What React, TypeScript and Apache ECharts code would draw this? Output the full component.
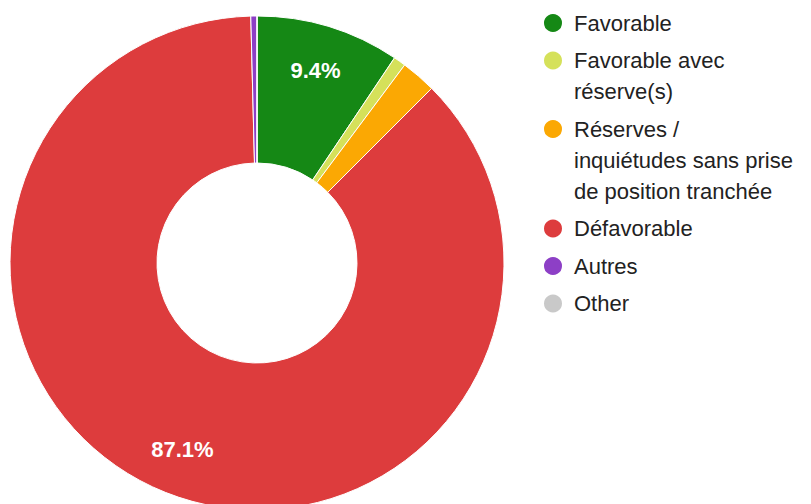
import React, { useEffect, useRef } from 'react';
import * as echarts from 'echarts';

const categories = [
  'Favorable',
  'Favorable avec réserve(s)',
  'Réserves / inquiétudes sans prise de position tranchée',
  'Défavorable',
  'Autres',
  'Other',
];
const values = [9.4, 0.8, 2.3, 87.1, 0.4, 0];
const colors = ['#158815', '#d5e15a', '#fba803', '#dd3c3d', '#8d3fc6', '#c9c9c9'];
const legendLines = [
  ['Favorable'],
  ['Favorable avec', 'réserve(s)'],
  ['Réserves /', 'inquiétudes sans prise', 'de position tranchée'],
  ['Défavorable'],
  ['Autres'],
  ['Other'],
];

const FONT = '"Liberation Sans", Arial, Helvetica, sans-serif';
const W = 811;
const H = 504;
const CX = 257;
const CY = 263;
const R_IN = 100;
const R_OUT = 247;
const LABEL_R = 201;
const LH = 31;
const GAP = 37.5;
const FIRST = 23;
const ICON = 20;

export default function App() {
  const ref = useRef<HTMLDivElement>(null);

  useEffect(() => {
    if (!ref.current) return;
    const chart = echarts.init(ref.current, null, { renderer: 'svg' });
    const total = values.reduce((a, b) => a + b, 0);
    const cum: number[] = [];
    let acc = 0;
    values.forEach((v) => {
      cum.push(acc);
      acc += v;
    });

    const centers: number[] = [];
    let c = FIRST;
    legendLines.forEach((l) => {
      centers.push(c);
      c += (l.length - 1) * LH + GAP;
    });

    const legends = categories.map((name, i) => {
      const n = legendLines[i].length;
      const text = [...Array(n - 1).fill(''), ...legendLines[i]].join('\n');
      return {
        data: [name],
        orient: 'vertical',
        left: 542,
        top: centers[i] - Math.max(ICON / 2, ((2 * n - 1) * LH) / 2),
        padding: 0,
        icon: 'circle',
        itemWidth: 32,
        itemHeight: ICON,
        selectedMode: false,
        formatter: () => text,
        textStyle: { fontFamily: FONT, fontSize: 22, lineHeight: LH, color: '#222222' },
      };
    });

    chart.setOption({
      animation: false,
      backgroundColor: '#ffffff',
      legend: legends,
      series: [
        {
          type: 'pie',
          center: [CX, CY],
          radius: [R_IN, R_OUT],
          startAngle: 90,
          clockwise: true,
          silent: true,
          avoidLabelOverlap: false,
          percentPrecision: 1,
          itemStyle: { borderColor: '#ffffff', borderWidth: 1 },
          label: {
            position: 'inside',
            color: '#ffffff',
            fontFamily: FONT,
            fontSize: 22,
            fontWeight: 'bold',
            formatter: (p: any) => p.percent.toFixed(1) + '%',
          },
          labelLine: { show: false },
          labelLayout: (p: any) => {
            const i = p.dataIndex;
            const f = (cum[i] + values[i] / 2) / total;
            const a = f * Math.PI * 2;
            return {
              x: CX + LABEL_R * Math.sin(a),
              y: CY - LABEL_R * Math.cos(a),
              align: 'center',
              verticalAlign: 'middle',
            };
          },
          data: categories.map((name, i) => ({
            name,
            value: values[i],
            itemStyle: { color: colors[i] },
            label: { show: values[i] / total >= 0.05 },
          })),
        },
      ],
    });
    return () => chart.dispose();
  }, []);

  return (
    <div
      ref={ref}
      style={{ position: 'fixed', left: 0, top: 0, width: W, height: H, background: '#fff' }}
    />
  );
}
